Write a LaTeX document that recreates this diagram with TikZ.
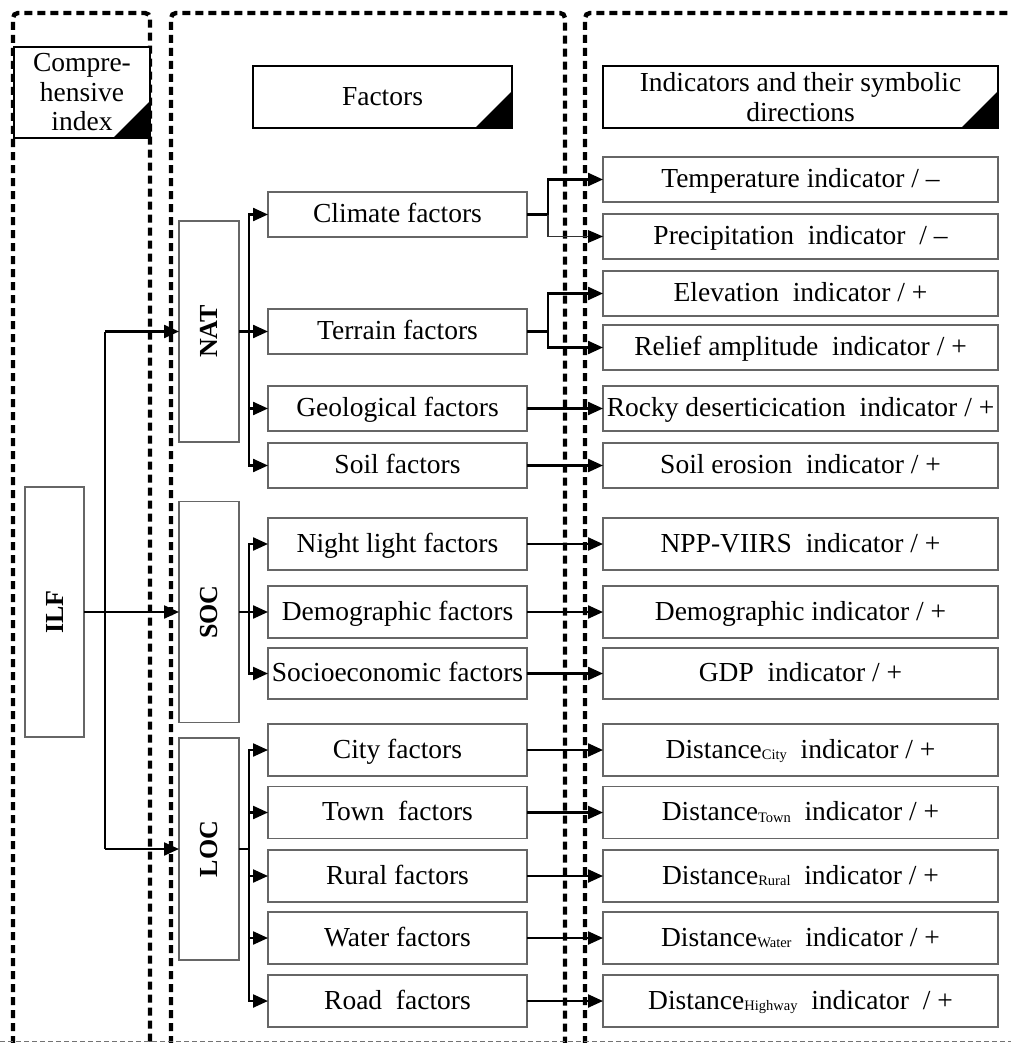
\documentclass[tikz,border=0pt]{standalone}
\usepackage{fontspec}
\setmainfont{Liberation Serif}
\usetikzlibrary{arrows.meta}
\newcommand{\dsub}[1]{\raisebox{-1.5pt}{\fontsize{14.5}{14.5}\selectfont #1}}
\begin{document}
\begin{tikzpicture}[x=1pt,y=-1pt,
  every node/.style={font=\fontsize{27.5}{29.5}\selectfont, inner sep=0pt, outer sep=0pt, align=center},
  frame/.style={draw=black!60, line width=1.5pt, fill=white},
  box/.style={frame, text height=17pt, text depth=1pt},
  fbox/.style={box, minimum width=259pt},
  ibox/.style={box, minimum width=395pt},
  cat/.style={frame, minimum width=60pt, font=\fontsize{26}{26}\selectfont\bfseries},
  hbox/.style={draw=black, line width=2.2pt, fill=white},
  dotline/.style={line width=4.4pt, dash pattern=on 8pt off 5pt, rounded corners=5pt},
  con/.style={line width=2.3pt, line join=miter},
  arr/.style={con, -{Triangle[length=15pt,width=13pt]}},
  thinarr/.style={line width=1.5pt, draw=black!80, -{Triangle[length=15pt,width=13pt,line width=0pt,fill=black]}}
]
\useasboundingbox (0,0) rectangle (1011,1043);
\clip (0,0) rectangle (1011,1043);

% dotted column frames
\draw[dotline] (13,1070) -- (13,13) -- (150,13) -- (150,1070);
\draw[dotline] (171,1070) -- (171,13) -- (565,13) -- (565,1070);
\draw[dotline] (585,1070) -- (585,13) -- (1040,13);
\draw[black!55, line width=1.2pt, dash pattern=on 5pt off 3pt] (0,1041.5) -- (1011,1041.5);

% header boxes
\node[hbox, minimum width=136pt, minimum height=91pt] (hc) at (82,92.5) {Compre-\\hensive\\index};
\node[hbox, minimum width=259pt, minimum height=62pt] (hf) at (382.5,97) {Factors};
\node[hbox, minimum width=395pt, minimum height=62pt] (hi) at (800.5,97) {Indicators and their symbolic\\directions};
\fill (hc.south east) -- ++(-37,0) -- ++(37,-37) -- cycle;
\fill (hf.south east) -- ++(-37,0) -- ++(37,-37) -- cycle;
\fill (hi.south east) -- ++(-37,0) -- ++(37,-37) -- cycle;

% comprehensive index and categories
\node[cat, minimum width=59pt, minimum height=250pt] (ilf) at (54.5,612) {\rotatebox{90}{ILF}};
\node[cat, minimum height=221pt] (nat) at (209,331.5) {\rotatebox{90}{NAT}};
\node[cat, minimum height=221pt] (soc) at (209,612) {\rotatebox{90}{SOC}};
\node[cat, minimum height=222pt] (loc) at (209,849) {\rotatebox{90}{LOC}};

% factors
\node[fbox, minimum height=45pt] (climate) at (397.5,214.5) {Climate factors};
\node[fbox, minimum height=45pt] (terrain) at (397.5,331.5) {Terrain factors};
\node[fbox, minimum height=45pt] (geo) at (397.5,408.5) {Geological factors};
\node[fbox, minimum height=45pt] (soil) at (397.5,465.5) {Soil factors};
\node[fbox, minimum height=52pt] (night) at (397.5,544) {Night light factors};
\node[fbox, minimum height=52pt] (demo) at (397.5,612) {Demographic factors};
\node[fbox, minimum height=51pt] (socio) at (397.5,673.5) {Socioeconomic factors};
\node[fbox, minimum height=52pt] (city) at (397.5,750) {City factors};
\node[fbox, minimum height=52pt] (town) at (397.5,812.5) {Town\ \ factors};
\node[fbox, minimum height=52pt] (rural) at (397.5,876) {Rural factors};
\node[fbox, minimum height=52pt] (water) at (397.5,938) {Water factors};
\node[fbox, minimum height=52pt] (road) at (397.5,1001) {Road\ \ factors};

% indicators
\node[ibox, minimum height=45pt] (temp) at (800.5,179.5) {Temperature indicator / \textendash};
\node[ibox, minimum height=45pt] (prec) at (800.5,236.5) {Precipitation\ \ indicator\ \ / \textendash};
\node[ibox, minimum height=45pt] (elev) at (800.5,293.5) {Elevation\ \ indicator / +};
\node[ibox, minimum height=45pt] (relief) at (800.5,347.5) {Relief amplitude\ \ indicator / +};
\node[ibox, minimum height=45pt] (rocky) at (800.5,408.5) {Rocky deserticication\ \ indicator / +};
\node[ibox, minimum height=45pt] (soilero) at (800.5,465.5) {Soil erosion\ \ indicator / +};
\node[ibox, minimum height=52pt] (npp) at (800.5,544) {NPP-VIIRS\ \ indicator / +};
\node[ibox, minimum height=52pt] (demoi) at (800.5,612) {Demographic indicator / +};
\node[ibox, minimum height=51pt] (gdp) at (800.5,673.5) {GDP\ \ indicator / +};
\node[ibox, minimum height=52pt] (dcity) at (800.5,750) {Distance\dsub{City}\ \ indicator / +};
\node[ibox, minimum height=52pt] (dtown) at (800.5,812.5) {Distance\dsub{Town}\ \ indicator / +};
\node[ibox, minimum height=52pt] (drural) at (800.5,876) {Distance\dsub{Rural}\ \ indicator / +};
\node[ibox, minimum height=52pt] (dwater) at (800.5,938) {Distance\dsub{Water}\ \ indicator / +};
\node[ibox, minimum height=52pt] (dhigh) at (800.5,1001) {Distance\dsub{Highway}\ \ indicator\ \ / +};

% bus coordinates
\coordinate (tk) at (105,0);
\coordinate (bx) at (249,0);
\coordinate (fx) at (548,0);

% ILF to categories
\draw[arr] (ilf.east) -- (soc.west);
\draw[con] (tk |- nat.west) -- (tk |- loc.west);
\draw[arr] (tk |- nat.west) -- (nat.west);
\draw[arr] (tk |- loc.west) -- (loc.west);

% categories to factors
\draw[con] (nat.east) -- (bx |- nat.east);
\foreach \f in {climate,terrain,geo,soil} \draw[arr] (bx |- nat.east) |- (\f.west);
\draw[con] (soc.east) -- (bx |- soc.east);
\foreach \f in {night,demo,socio} \draw[arr] (bx |- soc.east) |- (\f.west);
\draw[con] (loc.east) -- (bx |- loc.east);
\foreach \f in {city,town,rural,water,road} \draw[arr] (bx |- loc.east) |- (\f.west);

% factors to indicators
\draw[con] (climate.east) -- (fx |- climate.east);
\draw[arr] (fx |- climate.east) |- (temp.west);
\draw[thinarr] (fx |- climate.east) |- (prec.west);
\draw[con] (terrain.east) -- (fx |- terrain.east);
\draw[arr] (fx |- terrain.east) |- (elev.west);
\draw[arr] (fx |- terrain.east) |- (relief.west);
\draw[arr] (geo.east) -- (rocky.west);
\draw[arr] (soil.east) -- (soilero.west);
\draw[arr] (night.east) -- (npp.west);
\draw[arr] (demo.east) -- (demoi.west);
\draw[arr] (socio.east) -- (gdp.west);
\draw[arr] (city.east) -- (dcity.west);
\draw[arr] (town.east) -- (dtown.west);
\draw[arr] (rural.east) -- (drural.west);
\draw[arr] (water.east) -- (dwater.west);
\draw[arr] (road.east) -- (dhigh.west);
\end{tikzpicture}
\end{document}
